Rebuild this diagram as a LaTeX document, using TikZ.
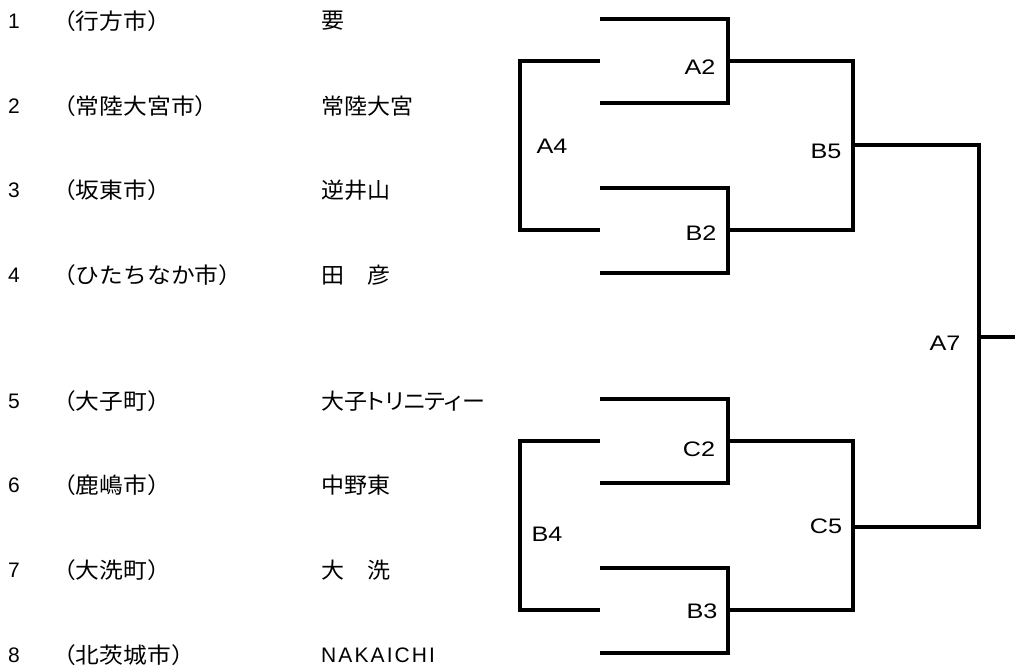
\documentclass[tikz,border=0pt]{standalone}
\usepackage{fontspec}
\setmainfont{Liberation Sans}
\newfontfamily\labfont{Liberation Sans}[FakeStretch=1.2]
\newfontfamily\latteam{Liberation Sans}[LetterSpace=10]
\newfontfamily\jpteam{Noto Sans CJK JP}[FakeStretch=1.045, RawFeature=+palt]
\newfontfamily\jpcity{Noto Sans CJK JP}[FakeStretch=1.08]

\begin{document}
\begin{tikzpicture}[x=1pt,y=-1pt,
    bracket/.style={line width=4pt, line join=miter, line cap=butt},
    txt/.style={inner sep=0pt, anchor=west, font=\fontsize{21}{21}\selectfont},
    round/.style={inner sep=0pt, font=\labfont\fontsize{21}{21}\selectfont}]
                \useasboundingbox (0,0) rectangle (1015,666);

                % Entry list: number, city, team
                \foreach \i/\y/\city/\team in {1/21/行方市/要, 2/106/常陸大宮市/常陸大宮,
                    3/190/坂東市/逆井山, 4/275/ひたちなか市/田　彦, 5/401/大子町/大子トリニティー,
                    6/485/鹿嶋市/中野東, 7/570/大洗町/大　洗, 8/655/北茨城市/\latteam\fontsize{21}{21}\selectfont NAKAICHI} {
                    \node[txt] (n\i) at (8,\y) {\i};
                    \node[txt, font=\fontsize{22}{22}\selectfont] (c\i) at (52,\y) {\jpcity （\city）};
                    \node[txt, font=\fontsize{22}{22}\selectfont] (t\i) at (321,\y) {\jpteam \team};
                }

                % Line ends and joints
                \foreach \i/\y in {1/19, 2/103, 3/188, 4/273, 5/399, 6/483, 7/568, 8/653} {
                    \coordinate (e\i) at (600,\y);
                }
                \coordinate (jA2) at (728,61);
                \coordinate (jB2) at (728,230);
                \coordinate (jC2) at (728,441);
                \coordinate (jB3) at (728,610);
                \coordinate (jB5) at (853,145);
                \coordinate (jC5) at (853,527);
                \coordinate (jA7) at (979,337);
                \coordinate (fin) at (1015,337);
                \coordinate (jA4) at (520,145);
                \coordinate (jB4) at (520,525);

                % First round
                \draw[bracket] (e1) -| (jA2) |- (e2);
                \draw[bracket] (e3) -| (jB2) |- (e4);
                \draw[bracket] (e5) -| (jC2) |- (e6);
                \draw[bracket] (e7) -| (jB3) |- (e8);

                % Left brackets
                \draw[bracket] (e1 |- jA2) -| (jA4) |- (e3 |- jB2);
                \draw[bracket] (e5 |- jC2) -| (jB4) |- (e7 |- jB3);

                % Semi finals and final
                \draw[bracket] (jA2) -| (jB5) |- (jB2);
                \draw[bracket] (jC2) -| (jC5) |- (jB3);
                \draw[bracket] (jB5) -| (jA7) |- (jC5);
                \draw[bracket] (jA7) -- (fin);

                % Match labels
                \node[round] (A2) at (700,67) {A2};
                \node[round] (B2) at (701,233) {B2};
                \node[round] (C2) at (699,449) {C2};
                \node[round] (B3) at (702,611) {B3};
                \node[round] (A4) at (552,146) {A4};
                \node[round] (B4) at (547,534) {B4};
                \node[round] (B5) at (826,151) {B5};
                \node[round] (C5) at (826,526) {C5};
                \node[round] (A7) at (945,343) {A7};
            \end{tikzpicture}
\end{document}
